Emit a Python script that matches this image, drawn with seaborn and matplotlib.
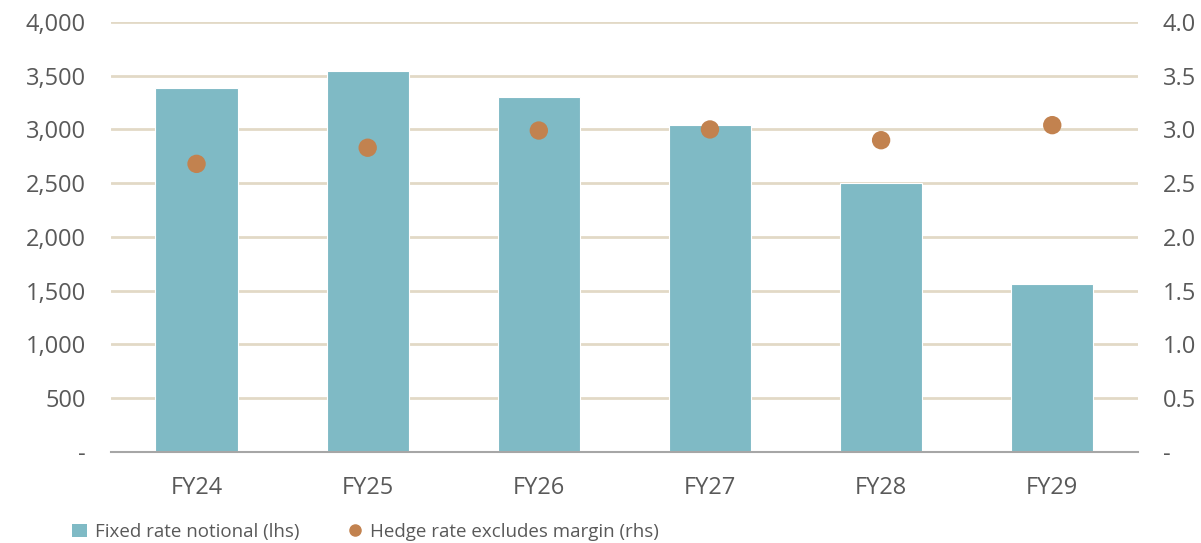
import pandas as pd
import seaborn as sns
import matplotlib.pyplot as plt
from matplotlib.lines import Line2D
from matplotlib.patches import Patch

# data
years = ["FY24", "FY25", "FY26", "FY27", "FY28", "FY29"]
notional = [3390, 3545, 3300, 3045, 2500, 1565]
hedge_rate = [2.68, 2.83, 2.99, 3.00, 2.90, 3.04]

left_ticks = [0, 500, 1000, 1500, 2000, 2500, 3000, 3500, 4000]
right_ticks = [0, 0.5, 1.0, 1.5, 2.0, 2.5, 3.0, 3.5, 4.0]

df = pd.DataFrame({"year": years, "notional": notional, "rate": hedge_rate})

bar_col = "#7FBAC5"
dot_col = "#C2824F"
grid_col = "#E2D9C6"
txt_col = "#595959"

sns.set_style("white")
plt.rcParams["font.family"] = ["Open Sans", "DejaVu Sans"]

fig = plt.figure(figsize=(12.01, 5.43), dpi=100)
rect = [0.0924, 0.1676, 0.855, 0.792]

# gridlines live on their own bottom axes so the bars cover them
ax_bg = fig.add_axes(rect, zorder=0)
ax_bg.set_ylim(0, 4000)
ax_bg.set_yticks(left_ticks)
ax_bg.set_xticks([])
ax_bg.yaxis.grid(True, color=grid_col, linewidth=2)
ax_bg.tick_params(length=0, labelleft=False)
for s in ax_bg.spines.values():
    s.set_visible(False)

# bars, lhs
ax = fig.add_axes(rect, zorder=1)
ax.patch.set_visible(False)
sns.barplot(data=df, x="year", y="notional", color=bar_col, width=0.48,
            saturation=1, errorbar=None, ax=ax)
for p in ax.patches:
    p.set_edgecolor("white")
    p.set_linewidth(0.8)
ax.set_ylim(0, 4000)
ax.set_xlim(-0.5, 5.5)
ax.set_yticks(left_ticks)
ax.set_yticklabels(["-" if v == 0 else f"{v:,}" for v in left_ticks])
ax.grid(False)
ax.set_xlabel("")
ax.set_ylabel("")
for s in ["top", "right", "left"]:
    ax.spines[s].set_visible(False)
ax.spines["bottom"].set_color("#A6A6A6")
ax.spines["bottom"].set_linewidth(1.5)
ax.tick_params(axis="both", length=0, labelcolor=txt_col)
ax.tick_params(axis="y", pad=18, labelsize=17)
ax.tick_params(axis="x", pad=17, labelsize=17)

# dots, rhs (separate overlay axes instead of twinx)
ax2 = fig.add_axes(rect, zorder=2)
ax2.patch.set_visible(False)
sns.scatterplot(data=df, x="year", y="rate", color=dot_col, s=175,
                edgecolor="none", ax=ax2)
ax2.set_xlim(-0.5, 5.5)
ax2.set_ylim(0, 4)
ax2.set_yticks(right_ticks)
ax2.set_yticklabels(["-" if v == 0 else f"{v:.1f}" for v in right_ticks])
ax2.yaxis.tick_right()
ax2.xaxis.set_visible(False)
ax2.set_ylabel("")
ax2.grid(False)
for s in ax2.spines.values():
    s.set_visible(False)
ax2.tick_params(axis="y", length=0, labelsize=17, labelcolor=txt_col, pad=18)

handles = [
    Patch(facecolor=bar_col, edgecolor="none", label="Fixed rate notional (lhs)"),
    Line2D([], [], marker="o", linestyle="none", color=dot_col, markersize=8,
           label="Hedge rate excludes margin (rhs)"),
]
fig.legend(handles=handles, loc="lower left", bbox_to_anchor=(0.0463, -0.027),
           ncol=2, frameon=False, fontsize=13.5, labelcolor=txt_col,
           handlelength=0.8, handletextpad=0.4, columnspacing=2.55)

fig.savefig("out.png", dpi=100)
